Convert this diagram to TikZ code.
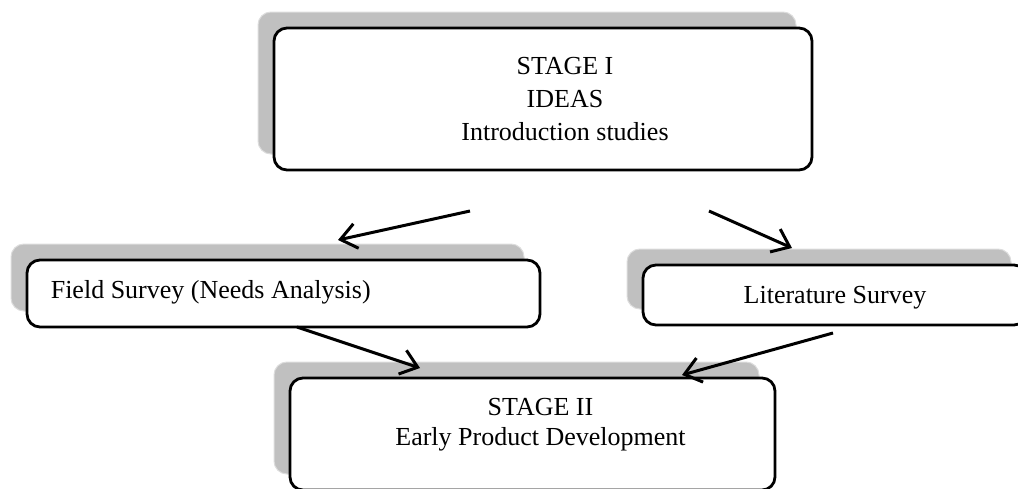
\documentclass[tikz,border=0pt]{standalone}
\usepackage{fontspec}
\setmainfont{Liberation Serif}
\usetikzlibrary{arrows.meta,shadows}

\definecolor{shadowgray}{HTML}{C0C0C0}
\definecolor{shadowedge}{HTML}{DCDCDC}

\begin{document}
\begin{tikzpicture}[x=1pt,y=-1pt,
  stage box/.style={draw,fill=white,line width=2.8pt,rounded corners=13pt,inner sep=0pt,
    general shadow={shadow xshift=-16pt,shadow yshift=16pt,fill=shadowgray,draw=shadowedge,line width=1pt}},
  box text/.style={font=\fontsize{26}{33}\selectfont,align=center,inner sep=0pt},
  flow/.style={-{Straight Barb[length=16pt,width=25pt]},line width=3pt}]

  \useasboundingbox (0,0) rectangle (1018,488);

  \node[stage box,minimum width=538pt,minimum height=142pt] (stage1) at (543,99) {};
  \node[stage box,minimum width=513pt,minimum height=67pt] (field) at (283.5,293.5) {};
  \node[stage box,minimum width=384pt,minimum height=60pt] (lit) at (835,295) {};
  \node[stage box,minimum width=485pt,minimum height=112pt] (stage2) at (532.5,434) {};

  \node[box text] (ideas) at ([xshift=22pt]stage1.center) {STAGE I\\IDEAS\\Introduction studies};
  \node[box text,anchor=west] (needs) at ([xshift=25pt,yshift=1pt]field.west) {Field Survey (Needs Analysis)};
  \node[box text] (review) at ([yshift=-3pt]lit.center) {Literature Survey};
  \node[box text,font=\fontsize{26}{30}\selectfont] (dev) at ([xshift=8pt,yshift=9pt]stage2.center) {STAGE II\\Early Product Development};

  \coordinate (split left) at (470,211);
  \coordinate (field in) at (338,240);
  \coordinate (split right) at (709,211);
  \coordinate (lit in) at (792,248);
  \coordinate (field out) at (297,327);
  \coordinate (dev left) at (420,368);
  \coordinate (lit out) at (833,333);
  \coordinate (dev right) at (682,375);

  \draw[flow] (split left) -- (field in);
  \draw[flow] (split right) -- (lit in);
  \draw[flow] (field out) -- (dev left);
  \draw[flow] (lit out) -- (dev right);
\end{tikzpicture}
\end{document}
